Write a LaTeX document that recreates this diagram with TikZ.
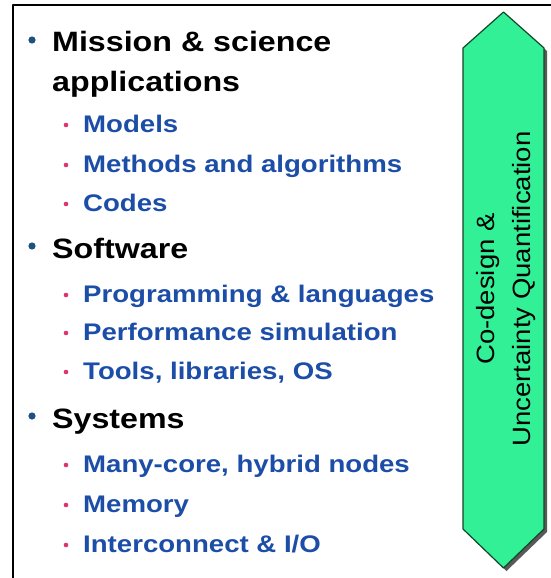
\documentclass[tikz,border=0pt]{standalone}
\usepackage{fontspec}
\setmainfont[FakeStretch=1.15]{Liberation Sans}
\newfontfamily\arrowfont[FakeStretch=1.1]{Liberation Sans}
\definecolor{itemblue}{RGB}{28,78,168}
\definecolor{dotblue}{RGB}{30,80,130}
\definecolor{dotpink}{RGB}{225,50,110}
\definecolor{mint}{RGB}{50,240,150}
\definecolor{mintedge}{RGB}{20,70,40}
\begin{document}
\begin{tikzpicture}[x=1pt,y=-1pt,line join=round,line cap=round,
	head/.style={anchor=base west,inner sep=0pt,font=\fontsize{28}{28}\selectfont\bfseries},
	sub/.style={anchor=base west,inner sep=0pt,text=itemblue,font=\fontsize{24}{24}\selectfont\bfseries},
	vtext/.style={rotate=90,anchor=base,inner sep=0pt,font=\fontsize{25}{25}\selectfont\arrowfont}]
	\useasboundingbox (0,0) rectangle (550,578);
	\fill[white] (0,0) rectangle (550,578);
	\draw[line width=2pt] (12.5,600)--(12.5,5)--(560,5);
	% arrow on the right
	\def\arrowpath{(503.5,12)--(544,48)--(544,529)--(503.5,568)--(463,529)--(463,48)--cycle}
	\fill[black!65,shift={(3,3)}] \arrowpath;
	\draw[fill=mint,draw=mintedge,line width=1.2pt] \arrowpath;
	\node[vtext] (codesign) at (494,289) {Co-design \&};
	\node[vtext] (uq) at (530,289) {Uncertainty Quantification};
	% list
	\node[head] (mission) at (52,52) {Mission \& science};
	\node[head] (apps) at (52,92) {applications};
	\node[head] (software) at (52,258) {Software};
	\node[head] (systems) at (52,428) {Systems};
	\foreach \n in {mission,software,systems}
		\fill[dotblue] ([xshift=-20pt,yshift=12pt]\n.base west) circle (3.6);
	\foreach \n/\y/\t in {models/132/Models, methods/172/Methods and algorithms, codes/211/Codes,
		prog/302/Programming \& languages, perf/340/Performance simulation, tools/379/{Tools, libraries, OS},
		manycore/472/{Many-core, hybrid nodes}, memory/512/Memory, interconnect/552/{Interconnect \& I/O}}{
		\node[sub] (\n) at (83,\y) {\t};
		\fill[dotpink] ([xshift=-17pt,yshift=7pt]\n.base west) circle (2.3);
	}
\end{tikzpicture}
\end{document}
